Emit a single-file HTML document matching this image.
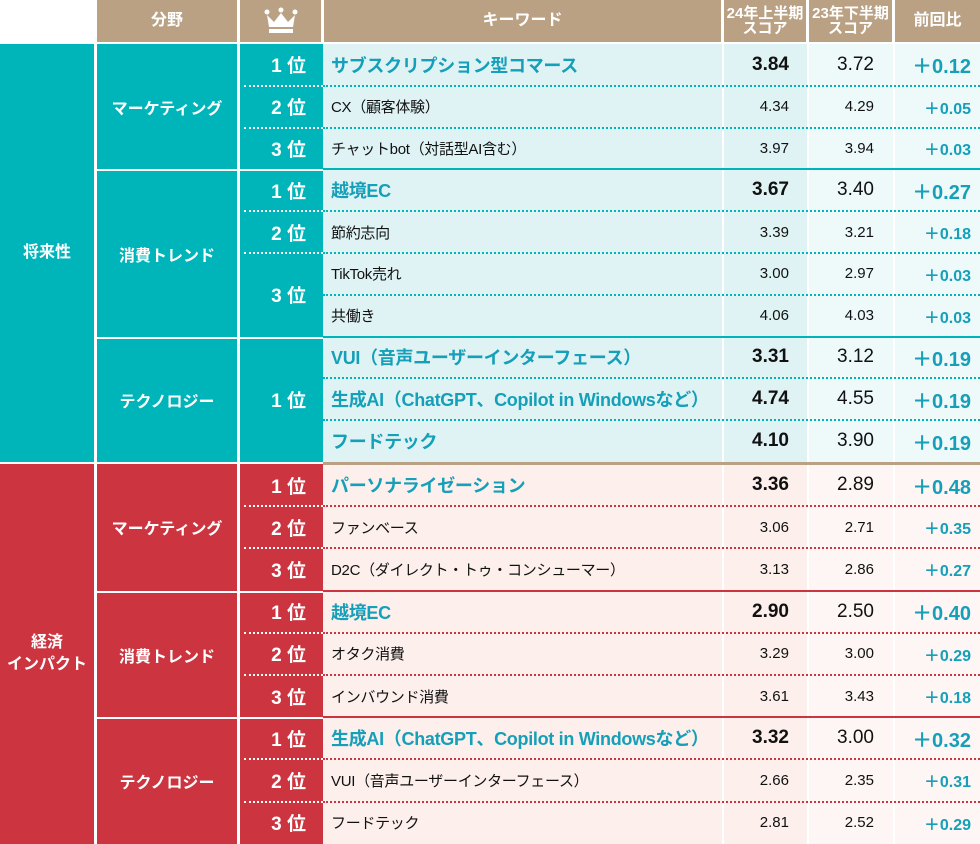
<!DOCTYPE html>
<html><head><meta charset="utf-8">
<style>
body{margin:0;background:#fff;}
#root{position:relative;width:980px;height:844px;overflow:hidden;font-family:"Liberation Sans","Noto Sans CJK JP",sans-serif;}
.a{position:absolute;box-sizing:border-box;}
.hd{background:#bba184;color:#fff;font-weight:bold;display:flex;align-items:center;justify-content:center;text-align:center;line-height:1.0;}
.c{display:flex;align-items:center;justify-content:center;color:#fff;font-weight:bold;text-align:center;}
</style></head><body>
<div id="root">
<div class="a hd" style="left:97px;top:0;width:140px;height:42px;font-size:16px">分野</div>
<div class="a hd" style="left:240px;top:0;width:81px;height:42px">
<svg width="34" height="28" viewBox="0 0 34 28"><circle cx="3" cy="5" r="2.5" fill="#fff"/><circle cx="17" cy="3" r="2.5" fill="#fff"/><circle cx="31" cy="5" r="2.5" fill="#fff"/><polygon points="3,8 10,15 17,6 24,15 31,8 29,20 5,20" fill="#fff"/><rect x="5" y="22" width="24" height="4" fill="#fff"/></svg></div>
<div class="a hd" style="left:324px;top:0;width:397px;height:42px;font-size:16px">キーワード</div>
<div class="a hd" style="left:724px;top:0;width:82px;height:42px;font-size:15px">24年上半期<br>スコア</div>
<div class="a hd" style="left:809px;top:0;width:83px;height:42px;font-size:15px">23年下半期<br>スコア</div>
<div class="a hd" style="left:895px;top:0;width:85px;height:42px;font-size:16px">前回比</div>
</div>
<script>
const keywords=["サブスクリプション型コマース","CX（顧客体験）","チャットbot（対話型AI含む）","越境EC","節約志向","TikTok売れ","共働き","VUI（音声ユーザーインターフェース）","生成AI（ChatGPT、Copilot in Windowsなど）","フードテック","パーソナライゼーション","ファンベース","D2C（ダイレクト・トゥ・コンシューマー）","越境EC","オタク消費","インバウンド消費","生成AI（ChatGPT、Copilot in Windowsなど）","VUI（音声ユーザーインターフェース）","フードテック"];
const score24=[3.84,4.34,3.97,3.67,3.39,3.00,4.06,3.31,4.74,4.10,3.36,3.06,3.13,2.90,3.29,3.61,3.32,2.66,2.81];
const score23=[3.72,4.29,3.94,3.40,3.21,2.97,4.03,3.12,4.55,3.90,2.89,2.71,2.86,2.50,3.00,3.43,3.00,2.35,2.52];
const change=[0.12,0.05,0.03,0.27,0.18,0.03,0.03,0.19,0.19,0.19,0.48,0.35,0.27,0.40,0.29,0.18,0.32,0.31,0.29];
const featured=[1,0,0,1,0,0,0,1,1,1,1,0,0,1,0,0,1,0,0];
const sections=[{label:"将来性",color:"#00b5ba",kw:"#dff3f5",c23:"#eef9fa",line:"#00b5ba",start:44,rh:41.8,
 groups:[{name:"マーケティング",ranks:[["1 位",1],["2 位",1],["3 位",1]]},{name:"消費トレンド",ranks:[["1 位",1],["2 位",1],["3 位",2]]},{name:"テクノロジー",ranks:[["1 位",3]]}]},
 {label:"経済<br>インパクト",color:"#cc3540",kw:"#fcefec",c23:"#fdf6f4",line:"#cc3540",start:464,rh:42.2,
 groups:[{name:"マーケティング",ranks:[["1 位",1],["2 位",1],["3 位",1]]},{name:"消費トレンド",ranks:[["1 位",1],["2 位",1],["3 位",1]]},{name:"テクノロジー",ranks:[["1 位",1],["2 位",1],["3 位",1]]}]}];
const root=document.getElementById('root');
function box(l,t,w,h,css,html){const d=document.createElement('div');d.className='a';d.style.cssText=`left:${l}px;top:${t}px;width:${w}px;height:${h}px;`+css;if(html!==undefined)d.innerHTML=html;root.appendChild(d);return d;}
let idx=0;
sections.forEach((s,si)=>{
 const total=s.groups.reduce((a,g)=>a+g.ranks.reduce((b,r)=>b+r[1],0),0);
 const secH=s.rh*total;
 const sec=box(0,s.start,94,secH,`background:${s.color};`,s.label);
 sec.classList.add('c');sec.style.fontSize='16px';sec.style.lineHeight='1.4';
 
 
 let y=s.start;
 s.groups.forEach((g,gi)=>{
  const n=g.ranks.reduce((b,r)=>b+r[1],0);
  const gh=s.rh*n;
  const top=y+(gi>0?2:0), gH=gh-(gi>0?2:0);
  const gc=box(97,top,140,gH,`background:${s.color};font-size:16px;`,g.name);gc.classList.add('c');
  
  
  box(240,top,83,gH,`background:${s.color};`);
  let ry=y;
  g.ranks.forEach((r,ri)=>{
   const rh=s.rh*r[1];
   const rc=box(240,ry,66,rh,`color:#fff;font-weight:bold;font-size:19px;display:flex;align-items:center;justify-content:flex-end;`,r[0]);
   
   
   if(ri>0)box(244,ry-1,79,0,`border-top:2px dotted #fff;`);
   for(let k=0;k<r[1];k++){
    const yy=ry+s.rh*k, f=featured[idx];
    box(323,yy,399,s.rh,`background:${s.kw};`);
    box(724,yy,83,s.rh,`background:${s.kw};`);
    box(809,yy,84,s.rh,`background:${s.c23};`);
    box(895,yy,85,s.rh,`background:${s.c23};`);
    if(!(ri===0&&k===0))box(323,yy-1,657,0,`border-top:2px dotted ${s.line};`);
    const kw=box(331,yy,390,s.rh,`display:flex;align-items:center;white-space:nowrap;letter-spacing:-0.3px;`+(f?`color:#159fb8;font-weight:bold;font-size:18px;`:`color:#111;font-size:15px;`),keywords[idx]);
    
    
    const a=box(724,yy,65,s.rh,`display:flex;align-items:center;justify-content:flex-end;color:#111;`+(f?`font-weight:bold;font-size:19px;`:`font-size:15px;`),score24[idx].toFixed(2));
    
    
    const b=box(809,yy,65,s.rh,`display:flex;align-items:center;justify-content:flex-end;color:#111;`+(f?`font-size:19px;`:`font-size:15px;`),score23[idx].toFixed(2));
    
    
    const c=box(895,yy,76,s.rh,`display:flex;align-items:center;justify-content:flex-end;color:#159fb8;font-weight:bold;`+(f?`font-size:20px;`:`font-size:16px;`),'＋'+change[idx].toFixed(2));
    
    
    idx++;
   }
   ry+=rh;
  });
  if(gi>0)box(323,y-1,657,2,`background:${s.line};`);
  y+=gh;
 });
 if(si>0)box(323,s.start-2,657,3,`background:#bba184;`);
});
</script>
</body></html>
